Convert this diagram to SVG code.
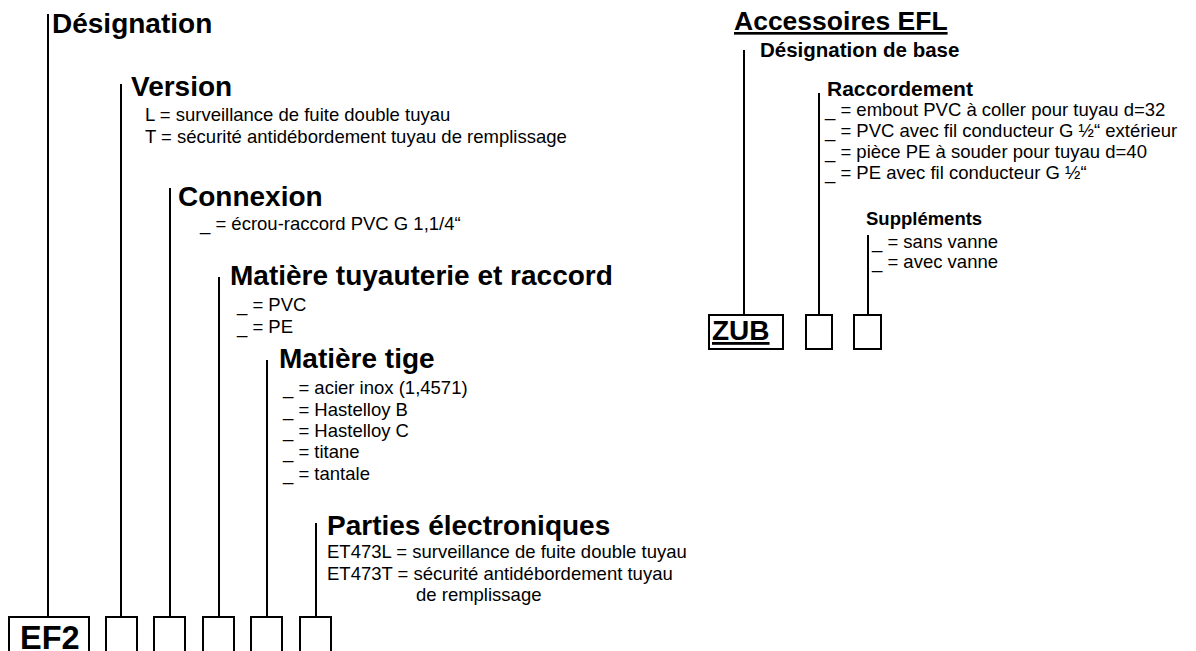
<svg xmlns="http://www.w3.org/2000/svg" width="1196" height="651" viewBox="0 0 1196 651">
<style>
text{font-family:"Liberation Sans",Arial,sans-serif;fill:#000}
.h{font-weight:bold;font-size:28px}
.hs{font-weight:bold;font-size:20.5px}
.t{font-size:18.5px}
.u{text-decoration:underline}
.ln{stroke:#000;stroke-width:2;fill:none}
.bx{stroke:#000;stroke-width:2;fill:#fff}
</style>
<rect width="1196" height="651" fill="#fff"/>
<g id="connectors">
<line class="ln" x1="48" y1="14" x2="48" y2="617"/>
<line class="ln" x1="121" y1="84" x2="121" y2="617"/>
<line class="ln" x1="170" y1="188" x2="170" y2="617"/>
<line class="ln" x1="219" y1="277" x2="219" y2="617"/>
<line class="ln" x1="267" y1="360" x2="267" y2="617"/>
<line class="ln" x1="316" y1="523" x2="316" y2="617"/>
<line class="ln" x1="744" y1="50" x2="744" y2="315"/>
<line class="ln" x1="819" y1="93" x2="819" y2="315"/>
<line class="ln" x1="868" y1="235" x2="868" y2="315"/>
</g>
<g id="designation">
<text class="h" x="52" y="33">Désignation</text>
</g>
<g id="version">
<text class="h" x="131" y="96">Version</text>
<text class="t" x="145" y="121">L = surveillance de fuite double tuyau</text>
<text class="t" x="145" y="143">T = sécurité antidébordement tuyau de remplissage</text>
</g>
<g id="connexion">
<text class="h" x="178" y="206">Connexion</text>
<text class="t" x="200" y="230">_ = écrou-raccord PVC G 1,1/4“</text>
</g>
<g id="matiere-tuyauterie">
<text class="h" x="230" y="285">Matière tuyauterie et raccord</text>
<text class="t" x="237" y="311">_ = PVC</text>
<text class="t" x="237" y="333">_ = PE</text>
</g>
<g id="matiere-tige">
<text class="h" x="279" y="368">Matière tige</text>
<text class="t" x="283" y="394">_ = acier inox (1,4571)</text>
<text class="t" x="283" y="416">_ = Hastelloy B</text>
<text class="t" x="283" y="437">_ = Hastelloy C</text>
<text class="t" x="283" y="458">_ = titane</text>
<text class="t" x="283" y="480">_ = tantale</text>
</g>
<g id="parties-electroniques">
<text class="h" x="327" y="535">Parties électroniques</text>
<text class="t" x="327" y="558">ET473L = surveillance de fuite double tuyau</text>
<text class="t" x="327" y="580">ET473T = sécurité antidébordement tuyau</text>
<text class="t" x="416" y="601">de remplissage</text>
</g>
<g id="code-ef2">
<rect class="bx" x="9" y="617" width="80" height="50"/>
<text x="20" y="649" font-weight="bold" font-size="32.5">EF2</text>
<rect class="bx" x="106" y="617" width="31" height="50"/>
<rect class="bx" x="154" y="617" width="31" height="50"/>
<rect class="bx" x="203" y="617" width="31" height="50"/>
<rect class="bx" x="251" y="617" width="31" height="50"/>
<rect class="bx" x="300" y="617" width="31" height="50"/>
</g>
<g id="accessoires">
<text class="h u" x="734" y="30" style="font-size:26.5px">Accessoires EFL</text>
<text class="hs" x="760" y="57">Désignation de base</text>
</g>
<g id="raccordement">
<text class="hs" x="827" y="96" style="font-size:21px">Raccordement</text>
<text class="t" x="825" y="116">_ = embout PVC à coller pour tuyau d=32</text>
<text class="t" x="825" y="137">_ = PVC avec fil conducteur G ½“ extérieur</text>
<text class="t" x="825" y="158">_ = pièce PE à souder pour tuyau d=40</text>
<text class="t" x="825" y="179">_ = PE avec fil conducteur G ½“</text>
</g>
<g id="supplements">
<text class="hs" x="866" y="225" style="font-size:18.5px">Suppléments</text>
<text class="t" x="872" y="248">_ = sans vanne</text>
<text class="t" x="872" y="268">_ = avec vanne</text>
</g>
<g id="code-zub">
<rect class="bx" x="709" y="315" width="74" height="34"/>
<text class="u" x="712" y="340" font-weight="bold" font-size="28">ZUB</text>
<rect class="bx" x="806" y="315" width="26" height="34"/>
<rect class="bx" x="854" y="315" width="27" height="34"/>
</g>
</svg>
